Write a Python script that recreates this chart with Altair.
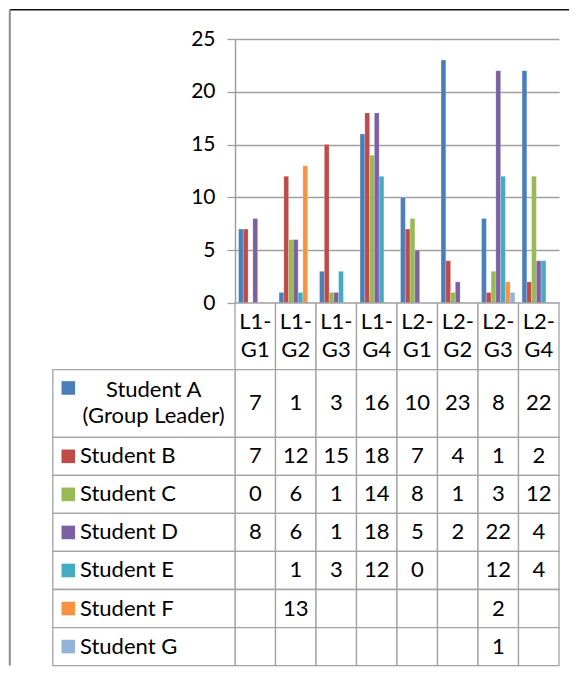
import altair as alt
import pandas as pd

# ---------------- data ----------------
categories = ["L1-G1", "L1-G2", "L1-G3", "L1-G4", "L2-G1", "L2-G2", "L2-G3", "L2-G4"]
series_names = ["Student A", "Student B", "Student C", "Student D",
                "Student E", "Student F", "Student G"]
series_labels = ["Student A\n(Group Leader)", "Student B", "Student C", "Student D",
                 "Student E", "Student F", "Student G"]
student_a = [7, 1, 3, 16, 10, 23, 8, 22]
student_b = [7, 12, 15, 18, 7, 4, 1, 2]
student_c = [0, 6, 1, 14, 8, 1, 3, 12]
student_d = [8, 6, 1, 18, 5, 2, 22, 4]
student_e = [None, 1, 3, 12, 0, None, 12, 4]
student_f = [None, 13, None, None, None, None, 2, None]
student_g = [None, None, None, None, None, None, 1, None]
y_ticks = [0, 5, 10, 15, 20, 25]

bar_colors = ["#4A7EBB", "#BE4B48", "#98B954", "#7D60A0", "#46AAC5", "#F69240", "#95B3D7"]

all_values = [student_a, student_b, student_c, student_d, student_e, student_f, student_g]

# ---------------- layout constants ----------------
FONT = "Lato"
W = 324
H_PLOT = 264
row_h = [66.6, 67.7] + [38.05] * 6          # header row + 7 series rows
tops = [sum(row_h[:i]) for i in range(len(row_h))]
H_TAB = sum(row_h)
HEAD_LH = 28
LABEL_LH = 26
GRID = "#A0A0A0"
BORDER = "#A3A3A3"

# ---------------- bar chart ----------------
long_rows = []
for s, vals in zip(series_names, all_values):
    for c, v in zip(categories, vals):
        if v is not None:
            long_rows.append({"cat": c, "series": s, "value": v})
bars_df = pd.DataFrame(long_rows)

color_scale = alt.Scale(domain=series_names, range=bar_colors)

bars = alt.Chart(bars_df).mark_bar(stroke="white", strokeWidth=0.4, strokeOpacity=0.5).encode(
    x=alt.X("cat:N", sort=categories,
            scale=alt.Scale(domain=categories, paddingInner=0.1765, paddingOuter=0.0882),
            axis=None),
    xOffset=alt.XOffset("series:N", sort=series_names,
                        scale=alt.Scale(domain=series_names, paddingInner=0, paddingOuter=0)),
    y=alt.Y("value:Q", scale=alt.Scale(domain=[0, 25], nice=False),
            axis=alt.Axis(values=y_ticks, title=None, grid=True, gridColor=GRID,
                          gridWidth=1.3, domainColor=GRID, domainWidth=1.5,
                          tickColor=GRID, tickWidth=1.3, tickSize=8, labelPadding=12,
                          labelFont=FONT, labelFontSize=21, labelColor="black")),
    color=alt.Color("series:N", scale=color_scale, legend=None),
)

frame_df = pd.DataFrame({"f": [0]})
frame_top = alt.Chart(frame_df).mark_rule(color="#111111", strokeWidth=1.6).encode(
    x=alt.value(-225.2), x2=alt.value(334), y=alt.value(-29.2))
frame_left = alt.Chart(frame_df).mark_rule(color="#8C8C8C", strokeWidth=2).encode(
    x=alt.value(-225.2), y=alt.value(-29.2), y2=alt.value(H_PLOT + H_TAB))

top = alt.layer(bars, frame_top, frame_left).properties(width=W, height=H_PLOT)

# ---------------- data table ----------------
def ty(field):
    return alt.Y(field, scale=alt.Scale(domain=[0, H_TAB], reverse=True, nice=False, zero=False),
                 axis=None)

table_x = alt.X("cat:N", sort=categories,
                scale=alt.Scale(domain=categories, paddingInner=0, paddingOuter=0), axis=None)

cell_rows = [{"cat": c, "y0": tops[r], "y1": tops[r] + row_h[r]}
             for r in range(len(row_h)) for c in categories]
cells = alt.Chart(pd.DataFrame(cell_rows)).mark_rect(
    fill="white", stroke=BORDER, strokeWidth=1.3).encode(
    x=table_x, y=ty("y0:Q"), y2="y1:Q")

label_cell_rows = [{"y0": tops[r], "y1": tops[r] + row_h[r]} for r in range(1, len(row_h))]
label_cells = alt.Chart(pd.DataFrame(label_cell_rows)).mark_rect(
    fill="white", stroke=BORDER, strokeWidth=1.3).encode(
    x=alt.value(-182.2), x2=alt.value(0), y=ty("y0:Q"), y2="y1:Q")

key_rows = []
for i, (s, lab) in enumerate(zip(series_names, series_labels)):
    r = i + 1
    n_lines = lab.count("\n") + 1
    yc = tops[r] + row_h[r] / 2
    first = yc - (n_lines - 1) * LABEL_LH / 2
    key_rows.append({"series": s, "label": lab, "lines": n_lines, "ty": first,
                     "sy": first - 2.5 * (n_lines - 1)})
keys_df = pd.DataFrame(key_rows)

keys = alt.Chart(keys_df).mark_square(size=185, opacity=1).encode(
    x=alt.value(-166.7), y=ty("sy:Q"),
    color=alt.Color("series:N", scale=color_scale, legend=None))

labels_single = alt.Chart(keys_df).transform_filter("datum.lines == 1").mark_text(
    align="left", baseline="middle", font=FONT, fontSize=22, color="black").encode(
    x=alt.value(-155), y=ty("ty:Q"), text="label:N")

labels_multi = alt.Chart(keys_df).transform_filter("datum.lines > 1").mark_text(
    align="center", baseline="middle", font=FONT, fontSize=22, color="black",
    lineBreak="\n", lineHeight=LABEL_LH).encode(
    x=alt.value(-81.4), y=ty("ty:Q"), text="label:N")

val_rows = []
for i, vals in enumerate(all_values):
    r = i + 1
    for c, v in zip(categories, vals):
        if v is not None:
            val_rows.append({"cat": c, "value": v, "yc": tops[r] + row_h[r] / 2})
vals_text = alt.Chart(pd.DataFrame(val_rows)).mark_text(
    align="center", baseline="middle", font=FONT, fontSize=22, color="black").encode(
    x=table_x, y=ty("yc:Q"), text="value:Q")

head_labels = [c.replace("-", "-\n") for c in categories]
head_df = pd.DataFrame({"cat": categories, "hl": head_labels,
                        "yc": [row_h[0] / 2 - HEAD_LH / 2] * len(categories)})
head_text = alt.Chart(head_df).mark_text(
    align="center", baseline="middle", font=FONT, fontSize=22, color="black",
    lineBreak="\n", lineHeight=HEAD_LH).encode(
    x=table_x, y=ty("yc:Q"), text="hl:N")

table = alt.layer(cells, label_cells, keys, labels_single, labels_multi, vals_text,
                  head_text).properties(width=W, height=H_TAB)

chart = alt.vconcat(top, table, spacing=0, bounds="flush").properties(
    padding=0, background="white").configure_view(strokeWidth=0)

chart.save("out.html", embed_options={"renderer": "svg", "actions": False})
